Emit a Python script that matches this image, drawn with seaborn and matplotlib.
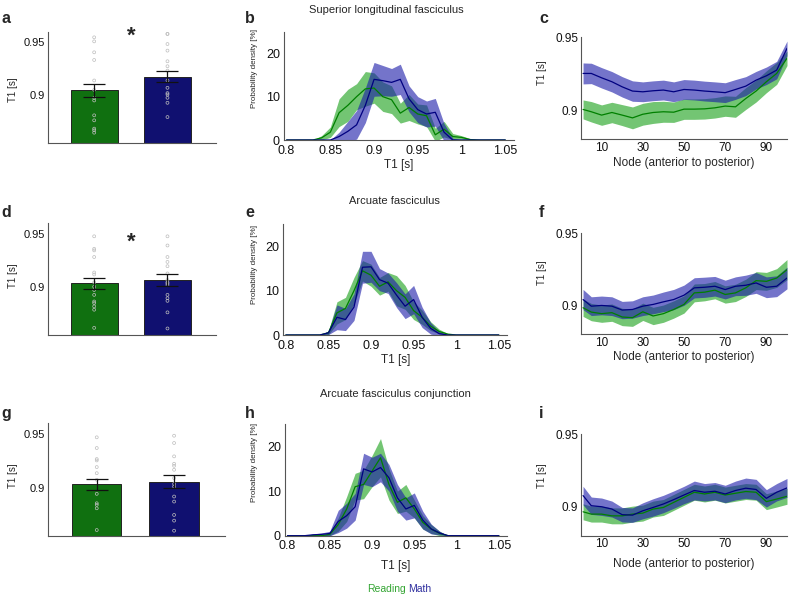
import numpy as np
import pandas as pd
import matplotlib
matplotlib.use("Agg")
import matplotlib.pyplot as plt
import seaborn as sns
from matplotlib.ticker import FormatStrFormatter

# ----------------------
# Data
# ----------------------
TRACTS = ["Superior longitudinal fasciculus", "Arcuate fasciculus", "Arcuate fasciculus conjunction"]
GROUPS = ["Reading", "Math"]

# mean T1 per group (bar panels a, d, g)
read_bar_mean = [0.9047, 0.9037, 0.9031]
math_bar_mean = [0.9178, 0.9071, 0.9056]
read_bar_sem = [0.0065, 0.0054, 0.0053]
math_bar_sem = [0.0053, 0.0056, 0.0059]

# individual subjects
read_pts_slf = [0.9547, 0.9509, 0.9406, 0.9334, 0.9141, 0.9053, 0.8978, 0.8953, 0.8813, 0.8766, 0.8688, 0.8672, 0.8650]
math_pts_slf = [0.9580, 0.9578, 0.9484, 0.9422, 0.9322, 0.9275, 0.9234, 0.9141, 0.9072, 0.9022, 0.9009, 0.8978, 0.8931, 0.8797]
read_pts_af = [0.9478, 0.9361, 0.9346, 0.9284, 0.9139, 0.9120, 0.9046, 0.9006, 0.8975, 0.8929, 0.8867, 0.8852, 0.8821, 0.8790, 0.8620]
math_pts_af = [0.9478, 0.9392, 0.9284, 0.9238, 0.9198, 0.9130, 0.9068, 0.9046, 0.9037, 0.9022, 0.8929, 0.8898, 0.8873, 0.8765, 0.8614]
read_pts_afc = [0.9469, 0.9369, 0.9266, 0.9253, 0.9191, 0.9134, 0.9072, 0.8941, 0.8853, 0.8838, 0.8806, 0.8603]
math_pts_afc = [0.9484, 0.9416, 0.9291, 0.9222, 0.9203, 0.9166, 0.9088, 0.9034, 0.9009, 0.8916, 0.8869, 0.8744, 0.8691, 0.8597]

# T1 distributions (panels b, e, h)
t1_bins = [0.80, 0.81, 0.82, 0.83, 0.84, 0.85, 0.86, 0.87, 0.88, 0.89, 0.90, 0.91, 0.92,
           0.93, 0.94, 0.95, 0.96, 0.97, 0.98, 0.99, 1.00, 1.01, 1.02, 1.03, 1.04, 1.05]
read_pdf_slf = [0, 0, 0, 0, 0.5, 1.8, 6.3, 8, 10, 11.8, 12, 10, 9.3, 6.2, 7.5, 6, 5.6, 1.2, 2.5, 0.8, 0.6, 0.1, 0, 0, 0, 0]
read_err_slf = [0, 0, 0, 0, 0.5, 1.2, 3.2, 3.7, 3, 4, 3.5, 3.4, 3.2, 2.3, 3, 2.3, 2.5, 1.5, 1.8, 0.7, 0.4, 0.2, 0, 0, 0, 0]
math_pdf_slf = [0, 0, 0, 0, 0, 0, 0.8, 2, 3.5, 8, 14, 13.7, 13.3, 14, 9.5, 7, 6, 6.4, 1.8, 0, 0, 0, 0, 0, 0, 0]
math_err_slf = [0, 0, 0, 0, 0, 0, 1, 2.3, 3.3, 4, 3.9, 3.5, 3.2, 3.5, 3, 3, 3, 3.2, 2, 0.4, 0, 0, 0, 0, 0, 0]
read_pdf_af = [0, 0, 0, 0, 0, 0.5, 5, 6, 10, 14.5, 13.5, 11, 12, 10, 8.5, 5.5, 4, 2, 0.8, 0.2, 0, 0, 0, 0, 0, 0]
read_err_af = [0, 0, 0, 0, 0, 0.4, 2.5, 2.5, 3, 2.3, 2.5, 2, 2.1, 3.4, 2.7, 2, 1.6, 1, 0.5, 0.15, 0, 0, 0, 0, 0, 0]
math_pdf_af = [0, 0, 0, 0, 0, 0.5, 4, 3.5, 6.3, 15.3, 15.4, 12.5, 11.7, 9, 6.5, 8, 4, 1.5, 0.3, 0, 0, 0, 0, 0, 0, 0]
math_err_af = [0, 0, 0, 0, 0, 0.4, 2.8, 2.5, 3, 3.6, 3.5, 2.5, 2.3, 2.8, 2.8, 3.2, 2.3, 1.3, 0.5, 0, 0, 0, 0, 0, 0, 0]
read_pdf_afc = [0, 0, 0, 0, 0, 0.3, 2.5, 6, 11, 11.5, 14.5, 17.5, 11.5, 7.5, 8.5, 6, 3, 1.5, 0.5, 0, 0, 0, 0, 0, 0, 0]
read_err_afc = [0, 0, 0, 0, 0, 0.3, 1.5, 2.8, 3, 3.2, 3.5, 4.3, 3.5, 2.5, 3, 2, 1.5, 1, 0.5, 0, 0, 0, 0, 0, 0, 0]
math_pdf_afc = [0, 0, 0, 0.2, 0.3, 0.5, 3.2, 4.5, 6.5, 15, 14.3, 15.3, 13, 8.5, 6, 6.8, 3.5, 1.5, 0.6, 0, 0, 0, 0, 0, 0, 0]
math_err_afc = [0, 0, 0, 0.2, 0.3, 0.5, 2.5, 2.8, 3, 3.5, 3.3, 3.2, 3, 3, 2.5, 2.8, 2, 1.1, 0.4, 0, 0, 0, 0, 0, 0, 0]

# tract profiles (panels c, f, i)
nodes = [1, 5, 10, 15, 20, 25, 30, 35, 40, 45, 50, 55, 60, 65, 70, 75, 80, 85, 90, 95, 100]
read_prof_slf = [0.9005, 0.8989, 0.8966, 0.8984, 0.8966, 0.8947, 0.8972, 0.8984, 0.8989, 0.8986, 0.9007,
                 0.9007, 0.9009, 0.9016, 0.9028, 0.9023, 0.9080, 0.9131, 0.9195, 0.9252, 0.9356]
read_psem_slf = [0.0065, 0.007, 0.007, 0.007, 0.0072, 0.0075, 0.0075, 0.0075, 0.0072, 0.007, 0.007,
                 0.007, 0.007, 0.007, 0.007, 0.0072, 0.0075, 0.0075, 0.0075, 0.0075, 0.005]
math_prof_slf = [0.9252, 0.9252, 0.9222, 0.9195, 0.9160, 0.9131, 0.9126, 0.9133, 0.9138, 0.9126, 0.9142,
                 0.9138, 0.9131, 0.9126, 0.9120, 0.9142, 0.9165, 0.9206, 0.9236, 0.9275, 0.9424]
math_psem_slf = [0.0072, 0.007, 0.007, 0.007, 0.007, 0.007, 0.0068, 0.0068, 0.0068, 0.0068, 0.0068,
                 0.0068, 0.0068, 0.0068, 0.0068, 0.0068, 0.0065, 0.006, 0.006, 0.006, 0.005]
read_prof_af = [0.8984, 0.8954, 0.8943, 0.8950, 0.8920, 0.8915, 0.8956, 0.8927, 0.8943, 0.8972, 0.9007,
                0.9087, 0.9092, 0.9106, 0.9076, 0.9087, 0.9122, 0.9172, 0.9167, 0.9190, 0.9248]
read_psem_af = [0.006, 0.006, 0.006, 0.006, 0.006, 0.006, 0.006, 0.006, 0.006, 0.006, 0.006,
                0.0062, 0.006, 0.006, 0.006, 0.006, 0.006, 0.0062, 0.0062, 0.0065, 0.007]
math_prof_af = [0.9041, 0.8995, 0.9000, 0.8995, 0.8968, 0.8972, 0.8995, 0.9007, 0.9025, 0.9041, 0.9071,
                0.9122, 0.9126, 0.9133, 0.9110, 0.9133, 0.9140, 0.9156, 0.9126, 0.9133, 0.9190]
math_psem_af = [0.007, 0.0065, 0.0065, 0.0065, 0.006, 0.006, 0.0065, 0.0065, 0.0068, 0.007, 0.007,
                0.007, 0.007, 0.0068, 0.0065, 0.0065, 0.007, 0.0072, 0.0072, 0.0072, 0.0075]
read_prof_afc = [0.8965, 0.8949, 0.8949, 0.8937, 0.8937, 0.8949, 0.8956, 0.8984, 0.8995, 0.9030, 0.9065,
                 0.9100, 0.9088, 0.9100, 0.9081, 0.9093, 0.9105, 0.9100, 0.9035, 0.9053, 0.9072]
read_psem_afc = [0.0055, 0.0055, 0.0055, 0.0055, 0.0055, 0.0055, 0.0055, 0.0055, 0.0055, 0.0055, 0.0055,
                 0.0055, 0.0055, 0.0055, 0.0055, 0.0055, 0.0055, 0.0055, 0.0055, 0.0055, 0.0055]
math_prof_afc = [0.9077, 0.9007, 0.9000, 0.8984, 0.8945, 0.8942, 0.8972, 0.8995, 0.9019, 0.9049, 0.9081,
                 0.9112, 0.9100, 0.9107, 0.9088, 0.9112, 0.9128, 0.9119, 0.9058, 0.9100, 0.9130]
math_psem_afc = [0.0064, 0.006, 0.006, 0.0055, 0.005, 0.005, 0.0055, 0.006, 0.006, 0.006, 0.006,
                 0.0065, 0.006, 0.006, 0.006, 0.0065, 0.007, 0.007, 0.006, 0.006, 0.0065]

# ----------------------
# Style
# ----------------------
sns.set_theme(style="white")
plt.rcParams["font.family"] = ["Liberation Sans", "DejaVu Sans"]

GREEN, BLUE = "#008000", "#000080"
GREEN_FILL, BLUE_FILL = "#009600", "#1818a8"
GREEN_TXT, BLUE_TXT = "#33a532", "#2e2e9e"
SPINE = "#555555"

W, H = 796, 595
fig = plt.figure(figsize=(W / 100, H / 100), dpi=100)


def add_ax(l, r, t, b):
    return fig.add_axes([l / W, 1 - b / H, (r - l) / W, (b - t) / H])


def style(ax, size=8.5, xpad=2):
    sns.despine(ax=ax)
    for s in ["left", "bottom"]:
        ax.spines[s].set_color(SPINE)
        ax.spines[s].set_linewidth(0.8)
    ax.tick_params(direction="in", length=3, width=0.8, color=SPINE,
                   labelsize=size, pad=2, labelcolor="#111111")
    ax.tick_params(axis="x", pad=xpad)


rows = [
    dict(tract=0, bar=(47.7, 215.7, 31.7, 143.3), pdf=(284, 514, 31.7, 140), prof=(581, 787, 37.3, 139.3),
         xlab=-0.175, ylab=(0.478, 0.66, 0.655), star=0.9560, title_y=10, tx=386, letter_y=23),
    dict(tract=1, bar=(47.7, 215.7, 223.3, 335.3), pdf=(283.3, 507.3, 224.3, 335), prof=(581, 787, 233.3, 334.3),
         xlab=-0.17, ylab=(0.53, 0.64, 0.607), star=0.9418, title_y=201, tx=394, letter_y=217),
    dict(tract=2, bar=(47.7, 225, 423.3, 535.7), pdf=(285, 507.3, 424.3, 535.7), prof=(581, 787, 434.3, 535.7),
         xlab=-0.22, ylab=(0.531, 0.655, 0.589), star=None, title_y=394, tx=395, letter_y=418),
]
points = [(read_pts_slf, math_pts_slf), (read_pts_af, math_pts_af), (read_pts_afc, math_pts_afc)]
pdfs = [(read_pdf_slf, read_err_slf, math_pdf_slf, math_err_slf),
        (read_pdf_af, read_err_af, math_pdf_af, math_err_af),
        (read_pdf_afc, read_err_afc, math_pdf_afc, math_err_afc)]
profs = [(read_prof_slf, read_psem_slf, math_prof_slf, math_psem_slf),
         (read_prof_af, read_psem_af, math_prof_af, math_psem_af),
         (read_prof_afc, read_psem_afc, math_prof_afc, math_psem_afc)]
letters = ["abc", "def", "ghi"]

for r, row in enumerate(rows):
    k = row["tract"]

    # --- bar panel ---
    ax = add_ax(*row["bar"])
    bars = pd.DataFrame({"group": GROUPS, "T1": [read_bar_mean[k], math_bar_mean[k]]})
    sns.barplot(data=bars, x="group", y="T1", hue="group", palette=[GREEN, BLUE], width=0.64,
                edgecolor="#222222", linewidth=0.7, legend=False, ax=ax)
    pts = pd.DataFrame({"group": ["Reading"] * len(points[k][0]) + ["Math"] * len(points[k][1]),
                        "T1": points[k][0] + points[k][1]})
    sns.stripplot(data=pts, x="group", y="T1", order=GROUPS, jitter=False, size=2.1,
                  color="none", edgecolor="#bdbdbd", linewidth=0.5, ax=ax, zorder=3)
    ax.errorbar([0, 1], [read_bar_mean[k], math_bar_mean[k]], yerr=[read_bar_sem[k], math_bar_sem[k]],
                fmt="none", ecolor="#111111", elinewidth=0.9, capsize=8, capthick=0.9, zorder=4)
    ax.set_xlim(-0.634, 1.658)
    ax.set_ylim(0.855, 0.96)
    ax.set_xticks([])
    ax.set_yticks([0.9, 0.95])
    ax.yaxis.set_major_formatter(FormatStrFormatter("%g"))
    ax.set_xlabel("")
    ax.set_ylabel("T1 [s]", fontsize=7)
    style(ax, 8)
    ax.yaxis.set_label_coords((18 - row["bar"][0]) / (row["bar"][1] - row["bar"][0]), row["ylab"][0])
    if row["star"] is not None:
        ax.text(0.5, row["star"], "*", ha="center", va="center", fontsize=16, fontweight="bold")

    # --- T1 distribution ---
    ax = add_ax(*row["pdf"])
    rm, re_, mm, me = [np.array(v) for v in pdfs[k]]
    ax.fill_between(t1_bins, rm - re_, rm + re_, color=GREEN_FILL, alpha=0.55, lw=0)
    ax.fill_between(t1_bins, mm - me, mm + me, color=BLUE_FILL, alpha=0.6, lw=0)
    sns.lineplot(x=t1_bins, y=rm, color=GREEN, lw=0.9, ax=ax)
    sns.lineplot(x=t1_bins, y=mm, color=BLUE, lw=0.9, ax=ax)
    ax.set_xlim(0.797, 1.06)
    ax.set_ylim(0, 25)
    ax.set_xticks([0.8, 0.85, 0.9, 0.95, 1.0, 1.05])
    ax.set_yticks([0, 10, 20])
    ax.xaxis.set_major_formatter(FormatStrFormatter("%g"))
    ax.set_xlabel("T1 [s]", fontsize=8.5)
    ax.set_ylabel("Probability density [%]", fontsize=5.8)
    style(ax, 9, xpad=3.4)
    ax.tick_params(axis="y", pad=3)
    ax.xaxis.set_label_coords(0.5, row["xlab"])
    ax.yaxis.set_label_coords((258 - row["pdf"][0]) / (row["pdf"][1] - row["pdf"][0]), row["ylab"][1])

    # --- tract profile ---
    ax = add_ax(*row["prof"])
    rm, rs, mm, ms = [np.array(v) for v in profs[k]]
    ax.fill_between(nodes, rm - rs, rm + rs, color=GREEN_FILL, alpha=0.55, lw=0)
    ax.fill_between(nodes, mm - ms, mm + ms, color=BLUE_FILL, alpha=0.6, lw=0)
    sns.lineplot(x=nodes, y=rm, color=GREEN, lw=0.9, ax=ax)
    sns.lineplot(x=nodes, y=mm, color=BLUE, lw=0.9, ax=ax)
    ax.set_xlim(0, 100)
    ax.set_ylim(0.88, 0.95)
    ax.set_xticks([10, 30, 50, 70, 90])
    ax.set_yticks([0.9, 0.95])
    ax.yaxis.set_major_formatter(FormatStrFormatter("%g"))
    ax.set_xlabel("Node (anterior to posterior)", fontsize=8.5)
    ax.set_ylabel("T1 [s]", fontsize=7)
    style(ax)
    ax.xaxis.set_label_coords(0.5, row["xlab"])
    ax.yaxis.set_label_coords((547 - row["prof"][0]) / (row["prof"][1] - row["prof"][0]), row["ylab"][2])

    # titles and panel letters
    fig.text(row["tx"] / W, 1 - row["title_y"] / H, TRACTS[k], ha="center", va="center", fontsize=8)
    for lx, ch in zip([1, 245, 539], letters[r]):
        fig.text(lx / W, 1 - row["letter_y"] / H, ch, ha="left", va="baseline",
                 fontsize=11.5, fontweight="bold")

# group legend
fig.text(405.5 / W, 1 - 589 / H, "Reading", color=GREEN_TXT, ha="right", va="center", fontsize=7.5)
fig.text(408.5 / W, 1 - 589 / H, "Math", color=BLUE_TXT, ha="left", va="center", fontsize=7.5)

fig.savefig("out.png", dpi=100)
